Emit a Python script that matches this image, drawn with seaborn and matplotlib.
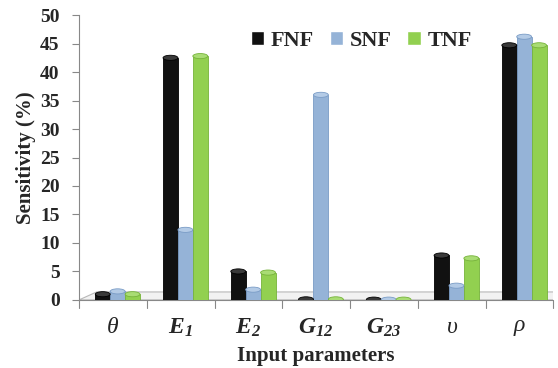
import matplotlib
matplotlib.use("Agg")
import matplotlib.pyplot as plt
import seaborn as sns
import pandas as pd
from matplotlib.patches import Polygon, Ellipse

categories = [r"$\theta$", r"$\mathbfit{E}_\mathbfit{1}$", r"$\mathbfit{E}_\mathbfit{2}$",
              r"$\mathbfit{G}_\mathbfit{12}$", r"$\mathbfit{G}_\mathbfit{23}$", r"$\upsilon$", r"$\rho$"]
cat_keys = ["theta", "E1", "E2", "G12", "G23", "nu", "rho"]
series = ["FNF", "SNF", "TNF"]
fnf = [1.0, 42.5, 5.0, 0.1, 0.05, 7.8, 44.7]
snf = [1.5, 12.3, 1.8, 36.0, 0.05, 2.5, 46.2]
tnf = [1.0, 42.8, 4.8, 0.1, 0.05, 7.3, 44.7]
yticks = [0, 5, 10, 15, 20, 25, 30, 35, 40, 45, 50]

rows = []
for i, k in enumerate(cat_keys):
    rows.append((k, "FNF", fnf[i]))
    rows.append((k, "SNF", snf[i]))
    rows.append((k, "TNF", tnf[i]))
df = pd.DataFrame(rows, columns=["param", "series", "value"])

sns.set_theme(style="white")
plt.rcParams["font.family"] = ["Liberation Serif", "DejaVu Serif"]
plt.rcParams["mathtext.fontset"] = "custom"
plt.rcParams["mathtext.rm"] = "Liberation Serif"
plt.rcParams["mathtext.it"] = "Liberation Serif:italic"
plt.rcParams["mathtext.bf"] = "Liberation Serif:bold"
plt.rcParams["mathtext.bfit"] = "Liberation Serif:bold:italic"

palette = {"FNF": "#111111", "SNF": "#95B3D7", "TNF": "#92D050"}
edges = {"FNF": "#000000", "SNF": "#7A9CC6", "TNF": "#76B33A"}
tops = {"FNF": "#3a3a3a", "SNF": "#b4cbe6", "TNF": "#a9dc74"}

fig = plt.figure(figsize=(5.58, 3.68), dpi=100)
ax = fig.add_axes([0.1416, 0.185, 0.85, 0.774])

sns.barplot(data=df, x="param", y="value", hue="series", order=cat_keys,
            hue_order=series, palette=palette, width=0.66, gap=0.0,
            ax=ax, saturation=1, legend=True)

depth_shift = 0.07  # perspective offset of the 3D-style bars
for cont, s in zip(ax.containers, series):
    for b in cont:
        b.set_x(b.get_x() + depth_shift)
        b.set_edgecolor(edges[s])
        b.set_linewidth(0.6)
        b.set_zorder(3)
        cx = b.get_x() + b.get_width() / 2
        h = b.get_height()
        ax.add_patch(Ellipse((cx, h), b.get_width(), 0.9, facecolor=tops[s],
                             edgecolor=edges[s], lw=0.6, zorder=4))

ax.set_ylim(0, 50)
ax.set_xlim(-0.5, 6.5)
ax.set_yticks(yticks)
ax.set_yticklabels([str(v) for v in yticks], fontsize=14, fontweight="bold")
ax.set_xticks(range(len(categories)))
ax.set_xticklabels(categories, fontsize=17)
ax.tick_params(axis="x", length=0, pad=12)
ax.tick_params(axis="y", length=5, width=0.8, color="#888888", left=True, pad=9)

# category separator ticks
for xi in [i - 0.5 for i in range(8)]:
    ax.plot([xi, xi], [0, -1.4], color="#888888", lw=0.8, clip_on=False)

# floor
floor = Polygon([(-0.5, 0), (6.5, 0), (6.76, 1.4), (-0.24, 1.4)], closed=True,
                facecolor="#f2f2f2", edgecolor="#b8b8b8", lw=0.8, zorder=1)
ax.add_patch(floor)

for side in ["top", "right", "bottom"]:
    ax.spines[side].set_visible(False)
ax.spines["left"].set_color("#888888")
ax.spines["left"].set_linewidth(0.8)
ax.plot([-0.5, 6.5], [0, 0], color="#888888", lw=0.8, clip_on=False)

ax.set_xlabel("Input parameters", fontsize=15, fontweight="bold", labelpad=5)
ax.set_ylabel("Sensitivity (%)", fontsize=15, fontweight="bold", labelpad=3)

leg = ax.legend(loc="upper center", bbox_to_anchor=(0.595, 1.015), ncol=3, frameon=False,
                prop={"family": "Liberation Serif", "weight": "bold", "size": 16},
                handlelength=0.6, handleheight=0.6, handletextpad=0.3, columnspacing=0.7)

fig.savefig("out.png", dpi=100)
